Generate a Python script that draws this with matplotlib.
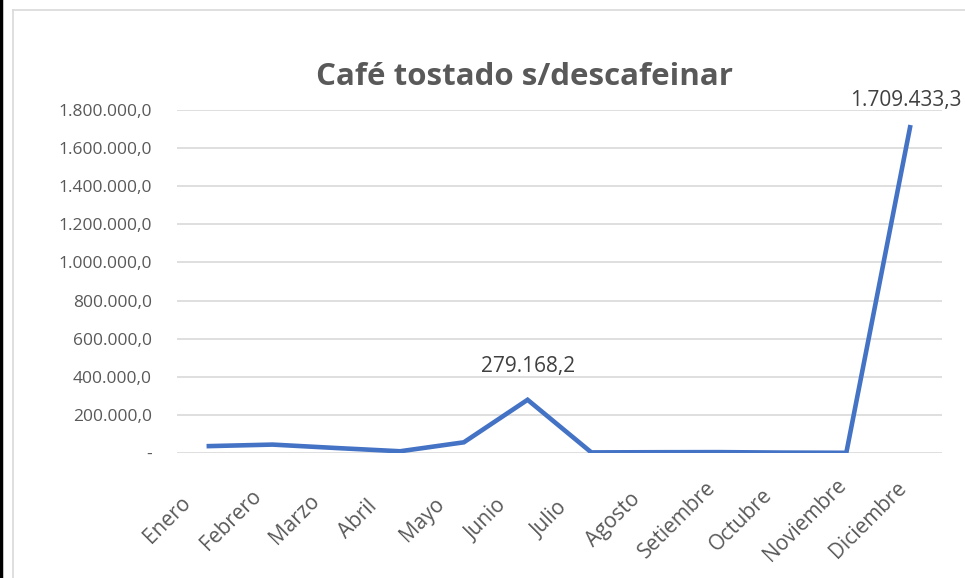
import matplotlib.pyplot as plt
from matplotlib.lines import Line2D
from matplotlib.ticker import FuncFormatter

# datos
meses = ['Enero', 'Febrero', 'Marzo', 'Abril', 'Mayo', 'Junio', 'Julio',
         'Agosto', 'Setiembre', 'Octubre', 'Noviembre', 'Diciembre']
valores = [36000, 44000, 26000, 9000, 56000, 279168.2, 3000,
           4000, 4500, 2000, 1000, 1709433.3]
etiquetas = {5: '279.168,2', 11: '1.709.433,3'}
y_ticks = list(range(0, 1800001, 200000))

GRIS = '#595959'
AZUL = '#4472C4'
plt.rcParams['font.family'] = ['Open Sans', 'DejaVu Sans']


def formato_es(v, pos=None):
    if v == 0:
        return '-'
    s = f'{v:,.1f}'
    return s.replace(',', 'X').replace('.', ',').replace('X', '.')


fig = plt.figure(figsize=(9.65, 5.78), dpi=100)
ax = fig.add_axes([0.1834, 0.2163, 0.7927, 0.5934])

x = list(range(len(meses)))
ax.plot(x, valores, color=AZUL, linewidth=3.3, solid_joinstyle='miter', zorder=3)

# desplazamiento (pt) de cada etiqueta de dato
desp = {5: (0, 20), 11: (-3, 15)}
for i, txt in etiquetas.items():
    ax.annotate(txt, (i, valores[i]), xytext=desp[i], textcoords='offset points',
                ha='center', va='baseline', fontsize=15, color='#404040')

ax.set_xlim(-0.5, len(meses) - 0.5)
ax.set_ylim(0, 1800000)
ax.set_yticks(y_ticks)
ax.yaxis.set_major_formatter(FuncFormatter(formato_es))
ax.set_xticks(x)
ax.set_xticklabels([])
# etiquetas de meses giradas, centradas a la izquierda del tick (estilo Excel)
for i, m in enumerate(meses):
    ax.annotate(m, (i, 0), xytext=(-30, -48), textcoords='offset points',
                rotation=45, ha='center', va='center', rotation_mode='anchor',
                fontsize=15, color=GRIS, annotation_clip=False)
ax.grid(axis='y', color='#d9d9d9', linewidth=1.2)
ax.set_axisbelow(True)
for s in ax.spines.values():
    s.set_visible(False)
ax.tick_params(axis='both', length=0, labelcolor=GRIS)
ax.tick_params(axis='y', pad=18, labelsize=12.5)

fig.text(0.544, 0.867, 'Café tostado s/descafeinar', ha='center', va='center',
         fontsize=22.5, fontweight='bold', color=GRIS)

# bordes del área del gráfico
fig.add_artist(Line2D([0.0013, 0.0013], [0, 1], color='black', linewidth=2.5))
fig.add_artist(Line2D([0.0135, 0.0135], [0, 0.983], color='#d9d9d9', linewidth=1.2))
fig.add_artist(Line2D([0.0135, 1], [0.983, 0.983], color='#d9d9d9', linewidth=1.2))

fig.savefig('out.png', dpi=100)
